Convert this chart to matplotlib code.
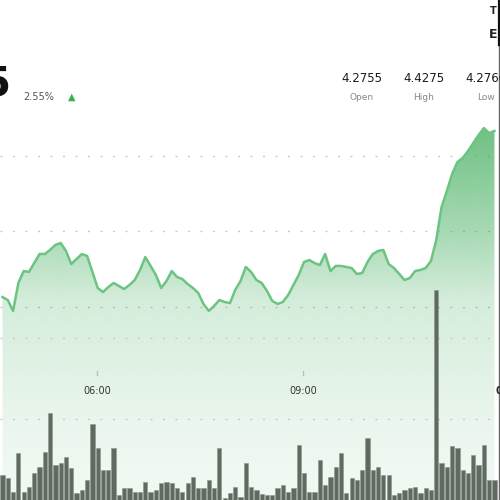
import numpy as np
import matplotlib
matplotlib.use('Agg')
import matplotlib.pyplot as plt

# ---------------- data ----------------
price = [4.3066, 4.3046, 4.2974, 4.3159, 4.3238, 4.3232, 4.3291, 4.3351, 4.3351, 4.3378,
         4.3411, 4.3424, 4.3371, 4.3285, 4.3318, 4.3351, 4.3338, 4.3232, 4.3126, 4.3099,
         4.3132, 4.3159, 4.3139, 4.3119, 4.3146, 4.3179, 4.3245, 4.3331, 4.3272, 4.3212,
         4.3126, 4.3172, 4.3238, 4.3199, 4.3185, 4.3152, 4.3126, 4.3093, 4.3020, 4.2974,
         4.3007, 4.3046, 4.3033, 4.3026, 4.3113, 4.3172, 4.3265, 4.3232, 4.3179, 4.3159,
         4.3106, 4.3040, 4.3020, 4.3033, 4.3079, 4.3146, 4.3212, 4.3298, 4.3311, 4.3291,
         4.3278, 4.3351, 4.3238, 4.3272, 4.3272, 4.3265, 4.3258, 4.3219, 4.3225, 4.3298,
         4.3351, 4.3371, 4.3378, 4.3285, 4.3258, 4.3219, 4.3179, 4.3192, 4.3238, 4.3245,
         4.3258, 4.3305, 4.3444, 4.3662, 4.3768, 4.3881, 4.3960, 4.3987, 4.4033, 4.4086,
         4.4139, 4.4185, 4.4152, 4.4166]

volume = [31, 27, 10, 58, 10, 16, 33, 41, 59, 107,
          43, 46, 53, 40, 9, 12, 25, 94, 64, 37,
          37, 64, 6, 15, 15, 10, 10, 22, 10, 12,
          21, 22, 21, 15, 10, 21, 28, 15, 15, 25,
          15, 64, 3, 9, 16, 4, 46, 16, 12, 8,
          6, 6, 15, 19, 10, 15, 68, 33, 10, 10,
          49, 19, 28, 41, 58, 9, 27, 25, 37, 77,
          37, 41, 31, 31, 6, 9, 12, 15, 16, 9,
          15, 12, 259, 46, 41, 67, 64, 37, 33, 56,
          43, 68, 25, 25]

price_grid = [4.30, 4.35, 4.40]
volume_grid = [100, 200]
time_labels = ['06:00', '09:00']
time_label_bar = [17.9, 56.8]

last_price_tail = '5'
change_pct = '2.55%'
stat_values = ['4.2755', '4.4275', '4.2760']
stat_names = ['Open', 'High', 'Low']

# ---------------- figure ----------------
W = H = 500
fig = plt.figure(figsize=(5, 5), dpi=100)
fig.patch.set_facecolor('white')

ax = fig.add_axes([0, 0, 1, 1])
ax.set_facecolor('white')
n = len(price)
x = np.arange(n)
XL = (-0.4726, 94.05)
YL = (4.17218, 4.50331)
ax.set_xlim(*XL)
ax.set_ylim(*YL)
ax.axis('off')

dots = (0, (1.4, 7.6))
for v in price_grid:
    ax.axhline(v, color='#c8c8c8', lw=1.0, ls=dots, zorder=1)

# gradient area
poly = ax.fill_between(x, price, YL[0], color='none', lw=0)
rows = 500
pxs = np.linspace(0, 500, rows)
alpha = np.interp(pxs, [0, 130, 230, 300, 420, 500], [0.78, 0.74, 0.46, 0.22, 0.11, 0.07])
img = np.zeros((rows, 1, 4))
img[..., 0] = 62 / 255
img[..., 1] = 172 / 255
img[..., 2] = 90 / 255
img[..., 3] = alpha[:, None]
im = ax.imshow(img, extent=[XL[0], XL[1], YL[0], YL[1]], aspect='auto',
               origin='upper', zorder=2, interpolation='bilinear')
im.set_clip_path(poly.get_paths()[0], transform=ax.transData)
ax.plot(x, price, color='#6cc482', lw=1.8, zorder=4, solid_joinstyle='round')
ax.set_xlim(*XL)
ax.set_ylim(*YL)

# volume axis
axv = ax.twinx()
axv.set_ylim(0, 617.3)
axv.set_xlim(*XL)
axv.axis('off')
for v in volume_grid:
    axv.axhline(v, color='#c8c8c8', lw=1.0, ls=dots, zorder=1)
axv.bar(x, volume, width=0.8, color='#5f6a60', edgecolor='#8d968d', lw=0.4, zorder=3)

# time labels
tr = ax.get_xaxis_transform()
for pos, lab in zip(time_label_bar, time_labels):
    ax.text(pos, 1 - 391 / H, lab, transform=tr, ha='center', va='center',
            fontsize=7, color='#333333', zorder=6)
    ax.plot([pos, pos], [1 - 371 / H, 1 - 375 / H], transform=tr, color='#bbbbbb',
            lw=1, zorder=6)

# ---------------- overlay (header) ----------------
ov = fig.add_axes([0, 0, 1, 1])
ov.set_xlim(0, W)
ov.set_ylim(H, 0)
ov.axis('off')
ov.patch.set_alpha(0)

ov.text(11, 84, last_price_tail, ha='right', va='center', fontsize=29,
        fontweight='bold', color='#111111')
ov.text(23, 97, change_pct, ha='left', va='center', fontsize=7, color='#555555')
ov.text(72, 97, '\u25B2', ha='center', va='center', fontsize=7, color='#3dae52')

for cx, val, name in zip([362, 424, 486], stat_values, stat_names):
    ov.text(cx, 78, val, ha='center', va='center', fontsize=8.5, color='#1a1a1a')
    ov.text(cx, 97, name, ha='center', va='center', fontsize=6.5, color='#888888')

ov.plot([498.5, 498.5], [0, 500], color='#666666', lw=1.0)
ov.plot([498.5, 498.5], [0, 45], color='#111111', lw=1.6)
ov.text(493, 11, 'T', ha='center', va='center', fontsize=7, fontweight='bold', color='#222222')
ov.text(493, 34, 'E', ha='center', va='center', fontsize=9, fontweight='bold', color='#222222')
ov.text(496, 391, '0', ha='left', va='center', fontsize=7, fontweight='bold', color='#222222')

fig.savefig('out.png', dpi=100, facecolor='white')
